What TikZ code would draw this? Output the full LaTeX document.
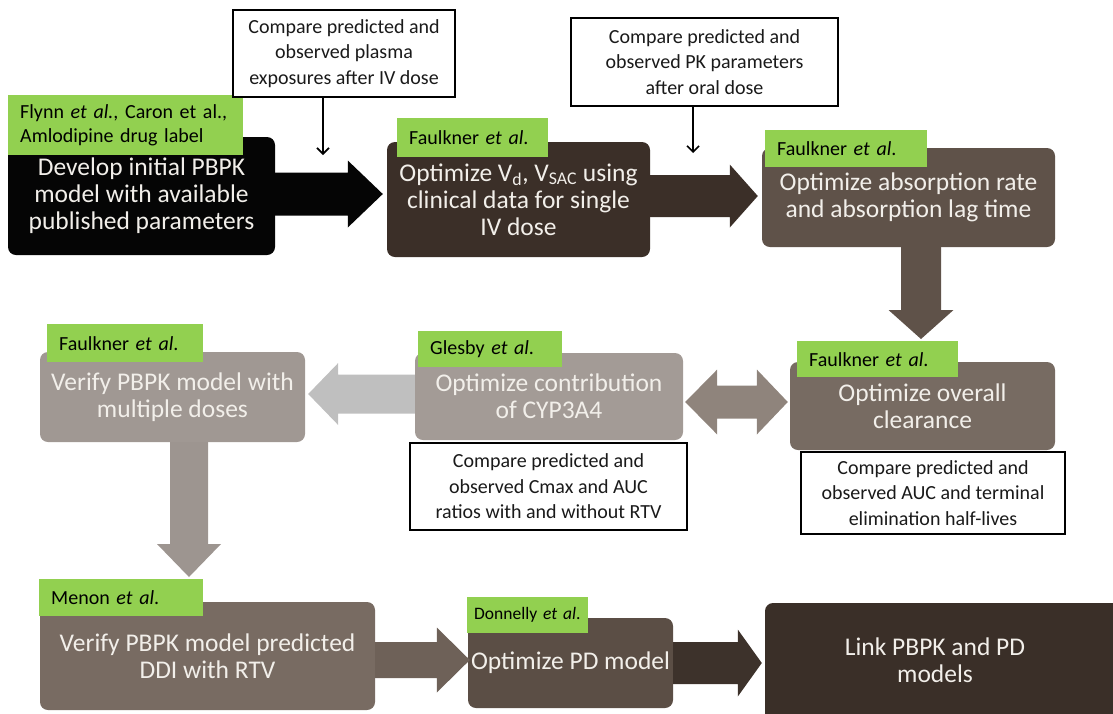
\documentclass[tikz,border=0pt]{standalone}
\usepackage{fontspec}
\setmainfont{Carlito}
\usetikzlibrary{calc,arrows.meta}
\definecolor{labgreen}{HTML}{92D050}
\definecolor{boxtxt}{HTML}{F2EFEA}
\definecolor{cbA}{HTML}{050505}
\definecolor{cbB}{HTML}{3B2F28}
\definecolor{cbC}{HTML}{5F5249}
\definecolor{cbD}{HTML}{776B62}
\definecolor{cbE}{HTML}{A39B96}
\definecolor{cbF}{HTML}{A09893}
\definecolor{cbG}{HTML}{786B62}
\definecolor{cbH}{HTML}{5B4E45}
\definecolor{cbI}{HTML}{3A2F28}
\definecolor{arB}{HTML}{3B2F28}
\definecolor{arC}{HTML}{5F5249}
\definecolor{arD}{HTML}{8F847C}
\definecolor{arL}{HTML}{BFBFBF}
\definecolor{arF}{HTML}{9D9590}
\definecolor{arG}{HTML}{6E6158}
\definecolor{arH}{HTML}{3D322B}
\definecolor{cmptxt}{HTML}{1A1A1A}
\newcommand\fatH[6]{\fill[#1] ($(#2)+(0,{-(#4)})$) -- ($(#3)+({-(#6)},{-(#4)})$) -- ($(#3)+({-(#6)},{-(#5)})$) -- (#3) -- ($(#3)+({-(#6)},{#5})$) -- ($(#3)+({-(#6)},{#4})$) -- ($(#2)+(0,{#4})$) -- cycle;}
\newcommand\fatV[6]{\fill[#1] ($(#2)+({-(#4)},0)$) -- ($(#3)+({-(#4)},{-(#6)})$) -- ($(#3)+({-(#5)},{-(#6)})$) -- (#3) -- ($(#3)+({#5},{-(#6)})$) -- ($(#3)+({#4},{-(#6)})$) -- ($(#2)+({#4},0)$) -- cycle;}
\begin{document}
\begin{tikzpicture}[x=1pt,y=-1pt,
  bx/.style={rounded corners=8pt, inner sep=0pt, text=boxtxt, align=center, font=\fontsize{25.5}{27}\selectfont},
  lab/.style={fill=labgreen, anchor=north west, inner xsep=12pt, inner ysep=0pt, align=left, text=black, font=\fontsize{20}{24}\selectfont},
  cmp/.style={draw=black, line width=1.4pt, fill=white, inner sep=0pt, align=center, text=cmptxt, font=\fontsize{20}{25.5}\selectfont},
  thinarrow/.style={line width=1.6pt, -{Straight Barb[length=6pt,width=12pt,line width=1.6pt]}}
]
\clip (0,0) rectangle (1113,713);
\useasboundingbox (0,0) rectangle (1113,713);

% boxes
\node[bx, fill=cbA, minimum width=267pt, minimum height=118pt] (b1) at (141.5,196) {Develop initial PBPK\\model with available\\published parameters};
\node[bx, fill=cbB, minimum width=263pt, minimum height=115pt] (b2) at (518.5,199.5) {Optimize V\textsubscript{d}, V\textsubscript{SAC} using\\clinical data for single\\IV dose};
\node[bx, fill=cbC, minimum width=293pt, minimum height=99pt] (b3) at (908.5,197.5) {Optimize absorption rate\\and absorption lag time};
\node[bx, fill=cbD, minimum width=265pt, minimum height=88pt] (b4) at (922.5,406) {Optimize overall\\clearance};
\node[bx, fill=cbE, minimum width=268pt, minimum height=87pt] (b5) at (549,396.5) {Optimize contribution\\of CYP3A4};
\node[bx, fill=cbF, minimum width=265pt, minimum height=90pt] (b6) at (172.5,397) {Verify PBPK model with\\multiple doses};
\node[bx, fill=cbG, minimum width=335pt, minimum height=108pt] (b7) at (207.5,656) {Verify PBPK model predicted\\DDI with RTV};
\node[bx, fill=cbH, minimum width=205pt, minimum height=90pt] (b8) at (570.5,663) {Optimize PD model};
\node[bx, fill=cbI, minimum width=360pt, minimum height=119pt] (b9) at (945,662.5) {};
\node[bx] (b9t) at ($(b9.center)+(-10,-2)$) {Link PBPK and PD\\models};

% green reference labels
\node[lab, text width=211pt, minimum height=60pt] (g1) at (8,95) {Flynn \textit{et al.}, Caron et al.,\\Amlodipine drug label};
\node[lab, text width=127pt, minimum height=39pt] (g2) at (397,118) {Faulkner \textit{et al}.};
\node[lab, text width=138pt, minimum height=37pt] (g3) at (765,130) {Faulkner \textit{et al}.};
\node[lab, text width=137pt, minimum height=36pt] (g4) at (797,341) {Faulkner \textit{et al}.};
\node[lab, text width=120pt, minimum height=36pt] (g5) at (418,331) {Glesby \textit{et al}.};
\node[lab, text width=132pt, minimum height=38pt] (g6) at (47,324) {Faulkner \textit{et al}.};
\node[lab, text width=140pt, minimum height=37pt] (g7) at (39,579) {Menon \textit{et al}.};
\node[lab, inner xsep=7pt, text width=107pt, minimum height=36pt, font=\fontsize{17.5}{22}\selectfont] (g8) at (467,597) {\mbox{Donnelly \textit{et al}.}};

% block arrows
\coordinate (a1s) at (b1.east |- 0,194);
\coordinate (a1t) at ($(b2.west |- 0,194)+(-4,0)$);
\fatH{cbA}{a1s}{a1t}{21.5}{33.5}{35}
\coordinate (a2s) at (b2.east |- 0,196);
\coordinate (a2t) at ($(b3.west |- 0,196)+(-4,0)$);
\fatH{arB}{a2s}{a2t}{21}{31.5}{28}
\coordinate (a3s) at (b3.south -| 921,0);
\coordinate (a3t) at ($(g4.north -| 921,0)+(0,-2)$);
\fatV{arC}{a3s}{a3t}{20}{32.5}{29}
\coordinate (aLs) at (b5.west |- 0,394);
\coordinate (aLt) at ($(b6.east |- 0,394)+(3,0)$);
\fatH{arL}{aLs}{aLt}{19.5}{31}{-30}
\coordinate (dl) at ($(b5.east |- 0,402)+(2,0)$);
\coordinate (dr) at ($(b4.west |- 0,402)+(-2,0)$);
\fill[arD] (dl) -- ($(dl)+(32,-32.5)$) -- ($(dl)+(32,-16.5)$) -- ($(dr)+(-31,-16.5)$) -- ($(dr)+(-31,-32.5)$) -- (dr) -- ($(dr)+(-31,32.5)$) -- ($(dr)+(-31,16.5)$) -- ($(dl)+(32,16.5)$) -- ($(dl)+(32,32.5)$) -- cycle;
\coordinate (a6s) at (b6.south -| 189,0);
\coordinate (a6t) at ($(g7.north -| 189,0)+(0,-2)$);
\fatV{arF}{a6s}{a6t}{19}{32}{33}
\coordinate (a7s) at (b7.east |- 0,660);
\coordinate (a7t) at ($(b8.west |- 0,660)+(2,0)$);
\fatH{arG}{a7s}{a7t}{18}{32.5}{33}
\coordinate (a8s) at (b8.east |- 0,663);
\coordinate (a8t) at ($(b9.west |- 0,663)+(-3,0)$);
\fatH{arH}{a8s}{a8t}{21}{33.5}{24}

% comparison boxes
\node[cmp, minimum width=222pt, minimum height=87pt] (c1) at (344,53.5) {Compare predicted and\\observed plasma\\exposures after IV dose};
\node[cmp, minimum width=267pt, minimum height=88pt] (c2) at (704.5,62) {Compare predicted and\\observed PK parameters\\after oral dose};
\node[cmp, minimum width=277pt, minimum height=87pt] (c5) at (548.5,486.5) {Compare predicted and\\observed Cmax and AUC\\ratios with and without RTV};
\node[cmp, minimum width=264pt, minimum height=82pt] (c4) at (933,493) {Compare predicted and\\observed AUC and terminal\\elimination half-lives};

\coordinate (p1) at (323,155);
\draw[thinarrow] (c1.south -| p1) -- (p1);
\coordinate (p2) at (693,153);
\draw[thinarrow] (c2.south -| p2) -- (p2);
\end{tikzpicture}
\end{document}
